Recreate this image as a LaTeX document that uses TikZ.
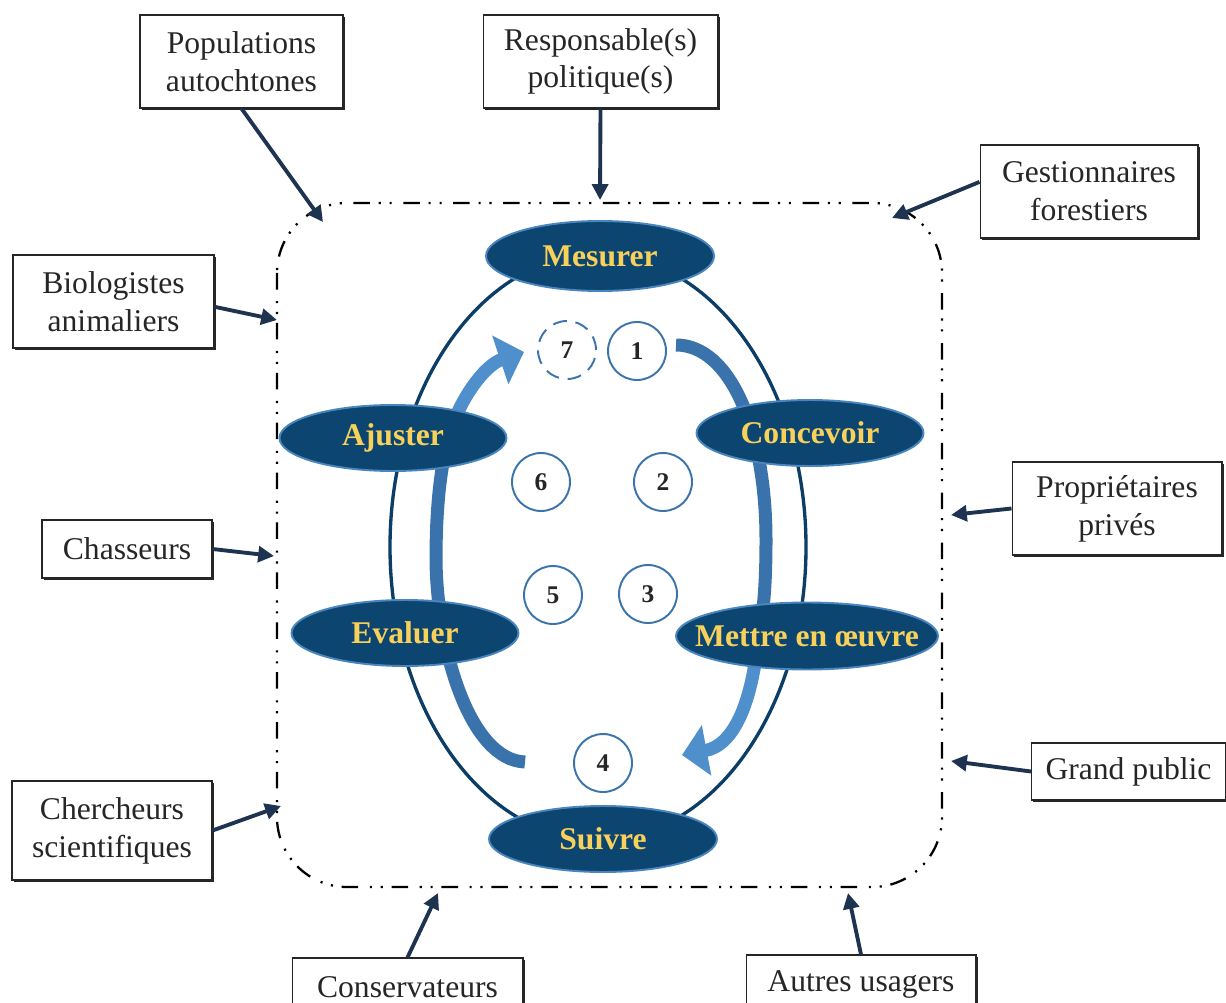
\documentclass[tikz,border=0pt]{standalone}
\usepackage{fontspec}
\setmainfont{Liberation Serif}
\usetikzlibrary{arrows.meta,shapes.geometric,shadows}

\definecolor{stagefill}{HTML}{0D4571}
\definecolor{stageedge}{HTML}{4A86BE}
\definecolor{stagetext}{HTML}{F7D15A}
\definecolor{loopline}{HTML}{0B3D66}
\definecolor{flowdark}{HTML}{3A73AB}
\definecolor{flowlight}{HTML}{4F8FCC}
\definecolor{ringblue}{HTML}{3B74AA}
\definecolor{feedblue}{HTML}{1E3350}

\newcommand{\stagelabel}[1]{\makebox[0pt]{#1}}

\begin{document}
\begin{tikzpicture}[x=0.02cm, y=-0.02cm,
  actor/.style={draw=black!85, line width=0.6pt, fill=white, align=center, inner sep=0pt,
    font=\fontsize{18}{21.5}\selectfont, text=black!85,
    drop shadow={shadow xshift=1.1pt, shadow yshift=-1.1pt, opacity=1, fill=black!85}},
  stage/.style={ellipse, fill=stagefill, draw=stageedge, line width=1.1pt, inner sep=0pt,
    text=stagetext, font=\fontsize{18}{20}\selectfont\bfseries},
  numring/.style={circle, draw=ringblue, line width=1.1pt, fill=white, minimum size=1.16cm,
    inner sep=0pt, font=\fontsize{14.5}{16}\selectfont\bfseries, text=black!85},
  feed/.style={draw=feedblue, line width=2.2pt, -{Triangle[length=9pt, width=9pt]}},
  flow/.style={line width=0.26cm}]
  \clip (0,0) rectangle (1226,1003);
  % Frame and cycle
  \draw[line width=1.3pt, black, rounded corners=1.4cm,
    dash pattern=on 9.4pt off 6.6pt on 1.2pt off 5pt on 1.2pt off 5pt] (277,203) rectangle (942,887);
  \draw[loopline, line width=1.9pt] (598,547) ellipse [x radius=208, y radius=293];
  % Flow arrows
  \draw[flow, flowdark] (676,345) .. controls (730,345) and (766,430) .. (766,540)
    .. controls (766,590) and (763,615) .. (758,640);
  \draw[flow, flowlight, -{Triangle[length=0.5cm, width=1.0cm]}]
    (758,640) .. controls (752,700) and (735,745) .. (682,755);
  \draw[flow, flowdark] (525,762) .. controls (470,760) and (437,650) .. (436,560)
    .. controls (436,510) and (440,470) .. (448,440);
  \draw[flow, flowlight, -{Triangle[length=0.5cm, width=1.0cm]}]
    (448,440) .. controls (458,400) and (485,365) .. (524,352);
  % Stages
  \node[stage, minimum width=4.56cm, minimum height=1.40cm] (mesurer) at (600,256) {\stagelabel{Mesurer}};
  \node[stage, minimum width=4.54cm, minimum height=1.32cm] (concevoir) at (810,433) {\stagelabel{Concevoir}};
  \node[stage, minimum width=5.24cm, minimum height=1.34cm] (mettre) at (807,636) {\stagelabel{Mettre en œuvre}};
  \node[stage, minimum width=4.56cm, minimum height=1.32cm] (suivre) at (603,839) {\stagelabel{Suivre}};
  \node[stage, minimum width=4.54cm, minimum height=1.32cm] (evaluer) at (405,633) {\stagelabel{Evaluer}};
  \node[stage, minimum width=4.54cm, minimum height=1.32cm] (ajuster) at (393,438) {\stagelabel{Ajuster}};
  % Step numbers
  \foreach \n/\pos in {1/{(637,351)}, 2/{(663,482)}, 3/{(648,594)},
                       4/{(603,763)}, 5/{(553,595)}, 6/{(541,482)}}
    \node[numring] (n\n) at \pos {\n};
  \node[numring, dash pattern=on 8pt off 5pt, fill=none] (n7) at (567,350) {7};
  % Actors
  \node[actor, minimum width=4.06cm, minimum height=1.86cm] (pop) at (241.5,61.5) {Populations\\autochtones};
  \node[actor, minimum width=4.70cm, minimum height=1.86cm] (pol) at (600.5,61.5) {Responsable(s)\\politique(s)};
  \node[actor, minimum width=4.36cm, minimum height=1.86cm] (gest) at (1089,191.5) {Gestionnaires\\forestiers};
  \node[actor, minimum width=4.02cm, minimum height=1.86cm] (bio) at (113.5,301.5) {Biologistes\\animaliers};
  \node[actor, minimum width=3.40cm, minimum height=1.16cm] (chas) at (127,549) {Chasseurs};
  \node[actor, minimum width=4.20cm, minimum height=1.86cm] (prop) at (1117,508.5) {Propriétaires\\privés};
  \node[actor, minimum width=3.88cm, minimum height=1.14cm] (grand) at (1128.5,771.5) {Grand public};
  \node[actor, minimum width=4.00cm, minimum height=1.98cm] (cher) at (112,830.5) {Chercheurs\\scientifiques};
  \node[actor, minimum width=4.62cm, minimum height=1.16cm] (cons) at (407.5,987) {Conservateurs};
  \node[actor, minimum width=4.60cm, minimum height=1.16cm] (autres) at (861,984) {Autres usagers};
  % Links to the frame
  \coordinate (tpop) at (323,222);
  \coordinate (tpol) at (600,200);
  \coordinate (tgest) at (892,218);
  \coordinate (tbio) at (277,320);
  \coordinate (tchas) at (274,556);
  \coordinate (tprop) at (951,515);
  \coordinate (tgrand) at (951,761);
  \coordinate (tcher) at (281,806);
  \coordinate (tcons) at (438,893);
  \coordinate (tautres) at (848,893);
  \draw[feed] (pop.south) -- (tpop);
  \draw[feed] (pol.south) -- (tpol);
  \draw[feed] (gest.175) -- (tgest);
  \draw[feed] (bio.-3) -- (tbio);
  \draw[feed] (chas.east) -- (tchas);
  \draw[feed] (prop.west) -- (tprop);
  \draw[feed] (grand.west) -- (tgrand);
  \draw[feed] (cher.east) -- (tcher);
  \draw[feed] (cons.north) -- (tcons);
  \draw[feed] (autres.north) -- (tautres);
\end{tikzpicture}
\end{document}
